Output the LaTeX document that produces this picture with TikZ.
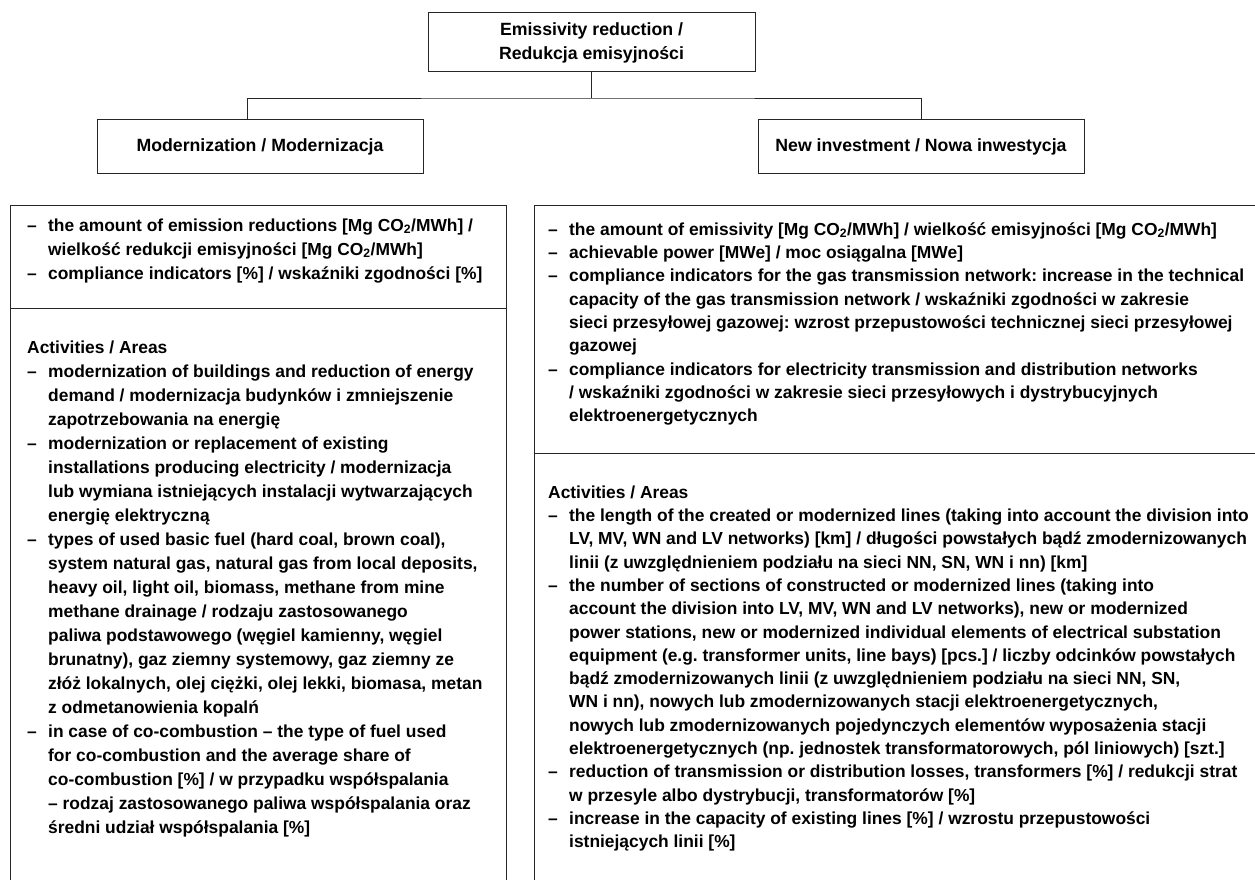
\documentclass[tikz,border=0pt]{standalone}
\usepackage{fontspec}
\setmainfont{Liberation Sans}
\frenchspacing
\newcommand\itm[1]{\strut\makebox[21pt][l]{–}#1}
\newcommand\cnt[1]{\strut\hspace*{21pt}#1}
\tikzset{
  frame/.style={draw=black!85, line width=1pt},
  titlebox/.style={frame, inner sep=0pt, align=center, font=\bfseries\fontsize{17.7}{24}\selectfont},
  txt/.style={anchor=north west, align=left, inner sep=0pt, font=\bfseries\fontsize{17.4}{24}\selectfont},
  txtr/.style={anchor=north west, align=left, inner sep=0pt, font=\bfseries\fontsize{17.4}{23.3}\selectfont},
  conn/.style={draw=black!85, line width=0.9pt},
}
\begin{document}
\begin{tikzpicture}[x=1pt, y=-1pt]
\useasboundingbox (0,0) rectangle (1255,880);
\clip (0,0) rectangle (1255,880);
% top level
\node[titlebox, minimum width=327pt, minimum height=59pt] (top) at (591.5,42.5) {Emissivity reduction /\\Redukcja emisyjności};
\node[titlebox, minimum width=326pt, minimum height=53pt] (mod) at (260,146.5) {Modernization / Modernizacja};
\node[titlebox, minimum width=326pt, minimum height=53pt] (nov) at (921,146.5) {New investment / Nowa inwestycja};
\coordinate (split) at (591.5,98);
\draw[conn] (top.south) -- (split);
\draw[conn] ([xshift=-13pt]mod.north) |- (split) -| (nov.north);
% lower frames
\draw[frame] (10,205) rectangle (506,900);
\draw[frame] (10,308) -- (506,308);
\draw[frame] (534,205) rectangle (1270,900);
\draw[frame] (534,453) -- (1270,453);
% texts
\node[txt] (lt) at (27,214) {%
\itm{the amount of emission reductions [Mg CO\textsubscript{2}/MWh] /}\\
\cnt{wielkość redukcji emisyjności [Mg CO\textsubscript{2}/MWh]}\\
\itm{compliance indicators [\%] / wskaźniki zgodności [\%]}};
\node[txt] (lb) at (27,336.2) {%
\strut Activities / Areas\\
\itm{modernization of buildings and reduction of energy}\\
\cnt{demand / modernizacja budynków i zmniejszenie}\\
\cnt{zapotrzebowania na energię}\\
\itm{modernization or replacement of existing}\\
\cnt{installations producing electricity / modernizacja}\\
\cnt{lub wymiana istniejących instalacji wytwarzających}\\
\cnt{energię elektryczną}\\
\itm{types of used basic fuel (hard coal, brown coal),}\\
\cnt{system natural gas, natural gas from local deposits,}\\
\cnt{heavy oil, light oil, biomass, methane from mine}\\
\cnt{methane drainage / rodzaju zastosowanego}\\
\cnt{paliwa podstawowego (węgiel kamienny, węgiel}\\
\cnt{brunatny), gaz ziemny systemowy, gaz ziemny ze}\\
\cnt{złóż lokalnych, olej ciężki, olej lekki, biomasa, metan}\\
\cnt{z odmetanowienia kopalń}\\
\itm{in case of co-combustion – the type of fuel used}\\
\cnt{for co-combustion and the average share of}\\
\cnt{co-combustion [\%] / w przypadku współspalania}\\
\cnt{– rodzaj zastosowanego paliwa współspalania oraz}\\
\cnt{średni udział współspalania [\%]}};
\node[txtr] (rt) at (548,218.7) {%
\itm{the amount of emissivity [Mg CO\textsubscript{2}/MWh] / wielkość emisyjności [Mg CO\textsubscript{2}/MWh]}\\
\itm{achievable power [MWe] / moc osiągalna [MWe]}\\
\itm{compliance indicators for the gas transmission network: increase in the technical}\\
\cnt{capacity of the gas transmission network / wskaźniki zgodności w zakresie}\\
\cnt{sieci przesyłowej gazowej: wzrost przepustowości technicznej sieci przesyłowej}\\
\cnt{gazowej}\\
\itm{compliance indicators for electricity transmission and distribution networks}\\
\cnt{/ wskaźniki zgodności w zakresie sieci przesyłowych i dystrybucyjnych}\\
\cnt{elektroenergetycznych}};
\node[txtr] (rb) at (548,481.7) {%
\strut Activities / Areas\\
\itm{the length of the created or modernized lines (taking into account the division into}\\
\cnt{LV, MV, WN and LV networks) [km] / długości powstałych bądź zmodernizowanych}\\
\cnt{linii (z uwzględnieniem podziału na sieci NN, SN, WN i nn) [km]}\\
\itm{the number of sections of constructed or modernized lines (taking into}\\
\cnt{account the division into LV, MV, WN and LV networks), new or modernized}\\
\cnt{power stations, new or modernized individual elements of electrical substation}\\
\cnt{equipment (e.g. transformer units, line bays) [pcs.] / liczby odcinków powstałych}\\
\cnt{bądź zmodernizowanych linii (z uwzględnieniem podziału na sieci NN, SN,}\\
\cnt{WN i nn), nowych lub zmodernizowanych stacji elektroenergetycznych,}\\
\cnt{nowych lub zmodernizowanych pojedynczych elementów wyposażenia stacji}\\
\cnt{elektroenergetycznych (np. jednostek transformatorowych, pól liniowych) [szt.]}\\
\itm{reduction of transmission or distribution losses, transformers [\%] / redukcji strat}\\
\cnt{w przesyle albo dystrybucji, transformatorów [\%]}\\
\itm{increase in the capacity of existing lines [\%] / wzrostu przepustowości}\\
\cnt{istniejących linii [\%]}};
\end{tikzpicture}
\end{document}
